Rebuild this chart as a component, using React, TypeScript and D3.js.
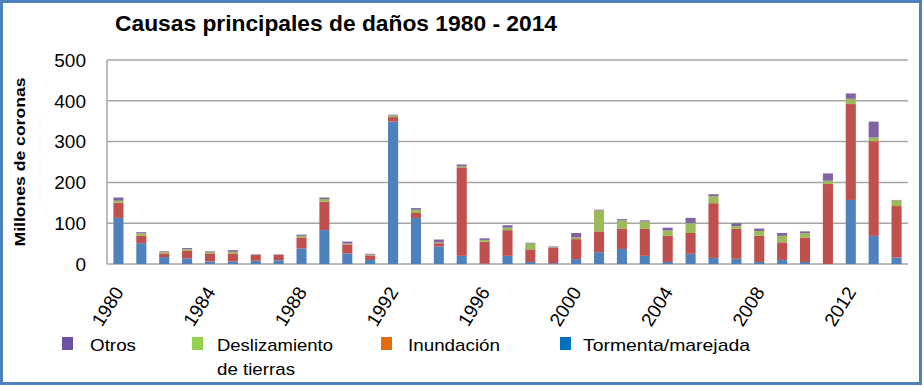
import React from "react";
import * as d3 from "d3";

const years: number[] = d3.range(1980, 2015);
const tormenta: number[] = [113, 51, 17, 14, 6, 6, 8, 9, 38, 83, 26, 10, 349, 113, 43, 20, 1, 20, 5, 2, 12, 29, 37, 20, 5, 25, 15, 13, 5, 10, 5, 0, 157, 69, 16];
const inundacion: number[] = [37, 18, 9, 18, 20, 20, 14, 13, 27, 70, 22, 11, 11, 12, 8, 217, 54, 63, 31, 38, 49, 51, 50, 66, 64, 51, 134, 73, 64, 43, 60, 196, 235, 232, 126];
const deslizamiento: number[] = [5, 6, 3, 4, 3, 4, 1, 1, 4, 6, 2, 2, 4, 8, 2, 3, 4, 6, 14, 1, 4, 51, 20, 18, 13, 24, 17, 7, 12, 16, 10, 8, 13, 9, 14];
const otros: number[] = [8, 3, 2, 3, 2, 4, 1, 1, 3, 4, 5, 2, 2, 4, 7, 4, 4, 6, 2, 2, 11, 2, 3, 3, 7, 13, 5, 7, 6, 7, 5, 18, 13, 39, 1];
const yTicks: number[] = [0, 100, 200, 300, 400, 500];
const xLabelYears: number[] = [1980, 1984, 1988, 1992, 1996, 2000, 2004, 2008, 2012];

const seriesKeys = ["tormenta", "inundacion", "deslizamiento", "otros"];
const barColors: Record<string, string> = {
  tormenta: "#4F81BD",
  inundacion: "#C0504D",
  deslizamiento: "#9BBB59",
  otros: "#8064A2",
};

const legendItems = [
  { label: ["Otros"], color: "#7050A0", x: 62, tx: 90, w: [46] },
  { label: ["Deslizamiento", "de tierras"], color: "#92D050", x: 192, tx: 217, w: [116, 78] },
  { label: ["Inundación"], color: "#E46C0A", x: 381, tx: 408, w: [92] },
  { label: ["Tormenta/marejada"], color: "#0070C0", x: 560, tx: 583, w: [167] },
];

export default function App() {
  const W = 924, H = 387;
  const left = 107, right = 908, top = 60, bottom = 264;
  const rows = years.map((y, i) => ({
    year: y,
    tormenta: tormenta[i],
    inundacion: inundacion[i],
    deslizamiento: deslizamiento[i],
    otros: otros[i],
  }));
  const stack = d3.stack<any>().keys(seriesKeys)(rows);
  const x = d3.scaleBand<number>().domain(years).range([left, right]).paddingInner(0.56).paddingOuter(0.28);
  const y = d3.scaleLinear().domain([0, 500]).range([bottom, top]);
  const font = "'Liberation Sans', Arial, sans-serif";

  return (
    <svg width={W} height={H} style={{ position: "fixed", left: 0, top: 0, background: "#fff" }} fontFamily={font}>
      <rect x={0} y={0} width={W} height={H} fill="#fff" />
      <rect x={1.5} y={1.5} width={W - 5} height={H - 5} fill="none" stroke="#4F81BD" strokeWidth={3} />
      <text x={115} y={31} fontSize={22} fontWeight="bold" fill="#000" textLength={442} lengthAdjust="spacingAndGlyphs">
        Causas principales de daños 1980 - 2014
      </text>
      {yTicks.map((t) => (
        <g key={t}>
          <line x1={left} x2={right} y1={y(t)} y2={y(t)} stroke="#A6A6A6" strokeWidth={1.5} />
          <text x={86} y={y(t)} dy="0.36em" textAnchor="end" fontSize={19} fill="#000">{t}</text>
        </g>
      ))}
      <line x1={left} x2={left} y1={top} y2={bottom} stroke="#A6A6A6" strokeWidth={1.5} />
      <line x1={40} x2={40} y1={118} y2={208} stroke="#DCE6F2" strokeWidth={1} strokeDasharray="1,2" />
      <text transform={`translate(25,162) rotate(-90)`} textAnchor="middle" fontSize={15} fontWeight="bold" fill="#000" textLength={169} lengthAdjust="spacingAndGlyphs">
        Millones de coronas
      </text>
      {stack.map((s) => (
        <g key={s.key} fill={barColors[s.key]}>
          {s.map((d: any) => (
            <rect key={d.data.year} x={x(d.data.year)} y={y(d[1])} width={x.bandwidth()} height={Math.max(0, y(d[0]) - y(d[1]))} />
          ))}
        </g>
      ))}
      {xLabelYears.map((yr) => {
        const cx = (x(yr) as number) + x.bandwidth() / 2 + 6;
        return (
          <text key={yr} transform={`translate(${cx},292) rotate(-58)`} textAnchor="end" fontSize={19} fill="#000">
            {yr}
          </text>
        );
      })}
      {legendItems.map((it) => (
        <g key={it.label[0]}>
          <rect x={it.x} y={337} width={11} height={13} fill={it.color} />
          {it.label.map((l, i) => (
            <text key={l} x={it.tx} y={351 + i * 24} fontSize={17} fill="#000" textLength={it.w[i]} lengthAdjust="spacingAndGlyphs">
              {l}
            </text>
          ))}
        </g>
      ))}
    </svg>
  );
}
